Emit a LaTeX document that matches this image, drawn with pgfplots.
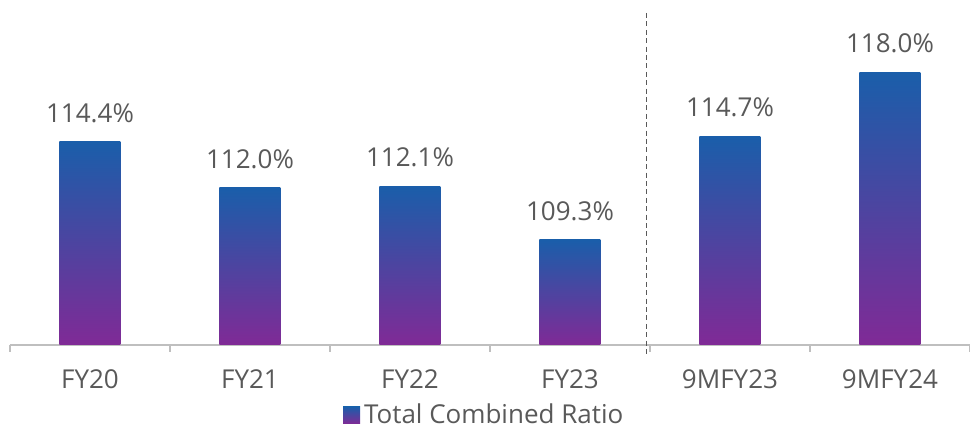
\documentclass[border=0pt]{standalone}
\usepackage{pgfplots}
\pgfplotsset{compat=1.18}
\usepackage{fontspec}
\setmainfont{Open Sans}
\definecolor{barblue}{RGB}{26,94,170}
\definecolor{barpurple}{RGB}{128,42,150}
\definecolor{txtgrey}{RGB}{89,89,89}
\definecolor{axgrey}{RGB}{191,191,191}
% one \addplot per bar, so that every bar gets its own gradient
\pgfplotsset{
  gradbar/.style={ybar, bar width=30.5pt, bar shift=0pt, draw=none,
    top color=barblue, bottom color=barpurple,
    nodes near coords={\pgfmathprintnumber[fixed,fixed zerofill,precision=1]{\pgfplotspointmeta}\%},
    every node near coord/.append style={inner sep=0pt, anchor=south, yshift=9.5pt,
      font=\fontsize{13}{15}\selectfont, text=txtgrey}},
}
\begin{document}
\begin{tikzpicture}
\useasboundingbox (-5pt,-41.5pt) rectangle (480pt,172.5pt);
\begin{axis}[
  at={(0,0)}, anchor=south west,
  scale only axis,
  width=480pt, height=166pt,
  xmin=-0.5, xmax=5.5,
  ymin=103.83, ymax=121.1,
  clip=false,
  axis y line=none,
  axis x line*=bottom,
  axis line style={draw=axgrey, line width=1pt},
  xtick={0,...,5},
  xticklabels={FY20,FY21,FY22,FY23,9MFY23,9MFY24},
  minor xtick={-0.5,0.5,...,5.5},
  xtick align=outside,
  major tick length=0pt,
  minor tick length=3.5pt,
  minor tick style={draw=axgrey, line width=1pt},
  xticklabel style={anchor=base, yshift=-22pt, font=\fontsize{13}{15}\selectfont, text=txtgrey},
  /pgf/number format/assume math mode=true,
  legend style={at={(0.495,-0.212)}, anchor=center, draw=none, fill=none,
    font=\fontsize{13}{15}\selectfont, text=txtgrey},
  legend image code/.code={\shade[top color=barblue, bottom color=barpurple]
    (0pt,-4.25pt) rectangle (8.5pt,4.25pt);},
]
\addplot[gradbar] coordinates {(0,114.4)};
\addlegendentry{Total Combined Ratio}
\addplot[gradbar, forget plot] coordinates {(1,112.0)};
\addplot[gradbar, forget plot] coordinates {(2,112.1)};
\addplot[gradbar, forget plot] coordinates {(3,109.3)};
\addplot[gradbar, forget plot] coordinates {(4,114.7)};
\addplot[gradbar, forget plot] coordinates {(5,118.0)};
\draw[txtgrey, line width=0.65pt, dash pattern=on 2.5pt off 1.7pt]
  (axis cs:3.48,121.1) -- ([yshift=-5pt]axis cs:3.48,103.83);
\end{axis}
\end{tikzpicture}
\end{document}
